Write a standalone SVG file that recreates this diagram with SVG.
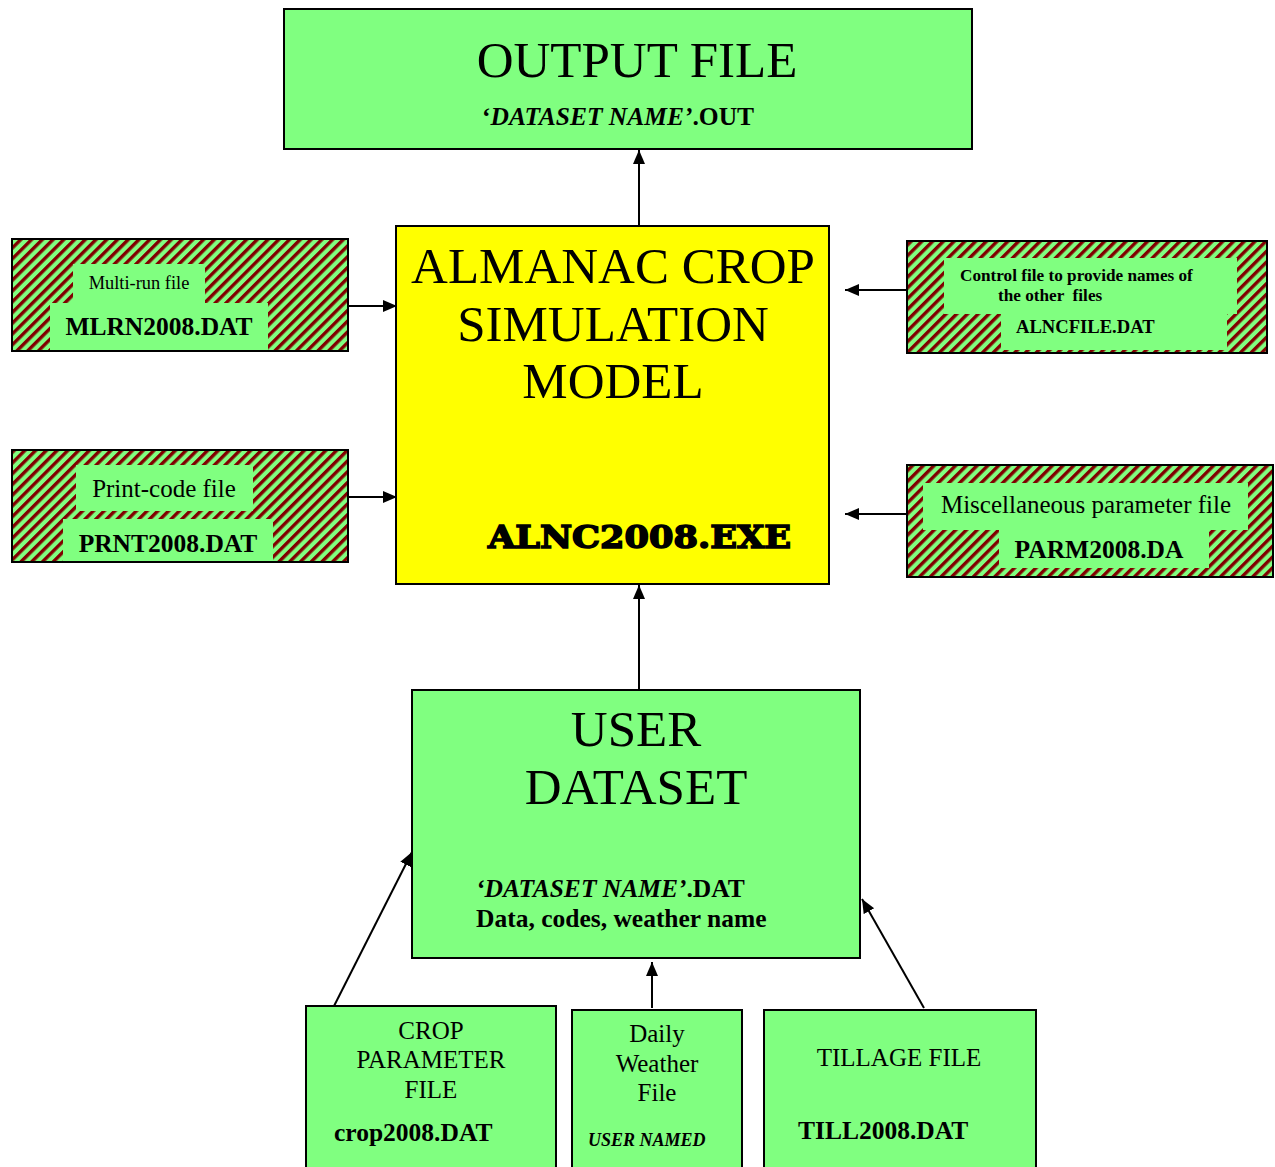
<svg xmlns="http://www.w3.org/2000/svg" width="1275" height="1167" viewBox="0 0 1275 1167">
<defs>
<pattern id="stripes" patternUnits="userSpaceOnUse" width="7.6" height="7.6" patternTransform="rotate(45)">
<rect x="0" y="0" width="7.6" height="7.6" fill="#80FF80"/>
<rect x="0" y="0" width="3.4" height="7.6" fill="#800000"/>
</pattern>
<marker id="arr" markerUnits="userSpaceOnUse" markerWidth="16" markerHeight="14" refX="14" refY="6" orient="auto">
<path d="M0,0 L14,6 L0,12 z" fill="#000"/>
</marker>
</defs>
<style>
.box{stroke:#000;stroke-width:2}
.g{fill:#80FF80}
.y{fill:#FFFF00}
.h{fill:url(#stripes)}
.p{fill:#80FF80;stroke:none}
text{font-family:"Liberation Serif","Times New Roman",serif;fill:#000}
.big{font-size:51px}
.m{font-size:25px}
.b{font-weight:bold;font-size:25.5px}
.i{font-style:italic}
.c{text-anchor:middle}
.con{stroke:#000;stroke-width:2;fill:none;marker-end:url(#arr)}
</style>
<rect width="1275" height="1167" fill="#fff"/>

<g id="connectors">
<line class="con" x1="639" y1="226" x2="639" y2="150"/>
<line class="con" x1="348" y1="306" x2="397" y2="306"/>
<line class="con" x1="348" y1="497" x2="397" y2="497"/>
<line class="con" x1="907" y1="290" x2="845" y2="290"/>
<line class="con" x1="907" y1="514" x2="845" y2="514"/>
<line class="con" x1="639" y1="690" x2="639" y2="585"/>
<line class="con" x1="332" y1="1010" x2="412" y2="852"/>
<line class="con" x1="652" y1="1008" x2="652" y2="962"/>
<line class="con" x1="924" y1="1008" x2="862" y2="899"/>
</g>

<g id="output-file">
<rect class="box g" x="284" y="9" width="688" height="140"/>
<text class="big c" x="637" y="77">OUTPUT FILE</text>
<text class="b" x="482" y="125">‘<tspan class="i">DATASET NAME’</tspan>.OUT</text>
</g>

<g id="model">
<rect class="box y" x="396" y="226" width="433" height="358"/>
<text class="big c" x="613" y="283">ALMANAC CROP</text>
<text class="big c" x="613" y="341">SIMULATION</text>
<text class="big c" x="613" y="398">MODEL</text>
<text x="488" y="548" style="font-family:'DejaVu Serif',serif;font-weight:bold;font-size:32px;stroke:#000;stroke-width:1.6" textLength="303" lengthAdjust="spacingAndGlyphs">ALNC2008.EXE</text>
</g>

<g id="mlrn">
<rect class="box h" x="12" y="239" width="336" height="112"/>
<rect class="p" x="73" y="264" width="132" height="40"/>
<rect class="p" x="50" y="303" width="218" height="47"/>
<text class="c" x="139" y="289" style="font-size:18.4px">Multi-run file</text>
<text class="b c" x="159" y="335">MLRN2008.DAT</text>
</g>

<g id="prnt">
<rect class="box h" x="12" y="450" width="336" height="112"/>
<rect class="p" x="76" y="465" width="177" height="46"/>
<rect class="p" x="63" y="519" width="210" height="42"/>
<text class="m c" x="164" y="497">Print-code file</text>
<text class="b c" x="168" y="552">PRNT2008.DAT</text>
</g>

<g id="alncfile">
<rect class="box h" x="907" y="241" width="360" height="112"/>
<rect class="p" x="944" y="258" width="293" height="56"/>
<rect class="p" x="1001" y="313" width="226" height="37"/>
<text class="b" x="960" y="281" style="font-size:17.2px">Control file to provide names of</text>
<text class="b" x="998" y="301" style="font-size:17.2px" xml:space="preserve">the other  files</text>
<text class="b" x="1016" y="333" style="font-size:18.6px">ALNCFILE.DAT</text>
</g>

<g id="parm">
<rect class="box h" x="907" y="465" width="366" height="112"/>
<rect class="p" x="923" y="483" width="325" height="47"/>
<rect class="p" x="999" y="529" width="210" height="39"/>
<text class="m c" x="1086" y="513">Miscellaneous parameter file</text>
<text class="b c" x="1099" y="558">PARM2008.DA</text>
</g>

<g id="user-dataset">
<rect class="box g" x="412" y="690" width="448" height="268"/>
<text class="big c" x="636" y="746">USER</text>
<text class="big c" x="636" y="804">DATASET</text>
<text class="b" x="476" y="897"><tspan class="i">‘DATASET NAME’</tspan>.DAT</text>
<text class="b" x="476" y="927">Data, codes, weather name</text>
</g>

<g id="crop-file">
<rect class="box g" x="306" y="1006" width="250" height="165"/>
<text class="m c" x="431" y="1039">CROP</text>
<text class="m c" x="431" y="1068">PARAMETER</text>
<text class="m c" x="431" y="1098">FILE</text>
<text class="b" x="334" y="1141">crop2008.DAT</text>
</g>

<g id="weather-file">
<rect class="box g" x="572" y="1010" width="170" height="161"/>
<text class="m c" x="657" y="1042">Daily</text>
<text class="m c" x="657" y="1072">Weather</text>
<text class="m c" x="657" y="1101">File</text>
<text class="b i" x="588" y="1146" style="font-size:18px">USER NAMED</text>
</g>

<g id="tillage-file">
<rect class="box g" x="764" y="1010" width="272" height="161"/>
<text class="m c" x="899" y="1066">TILLAGE FILE</text>
<text class="b" x="798" y="1139">TILL2008.DAT</text>
</g>
</svg>
